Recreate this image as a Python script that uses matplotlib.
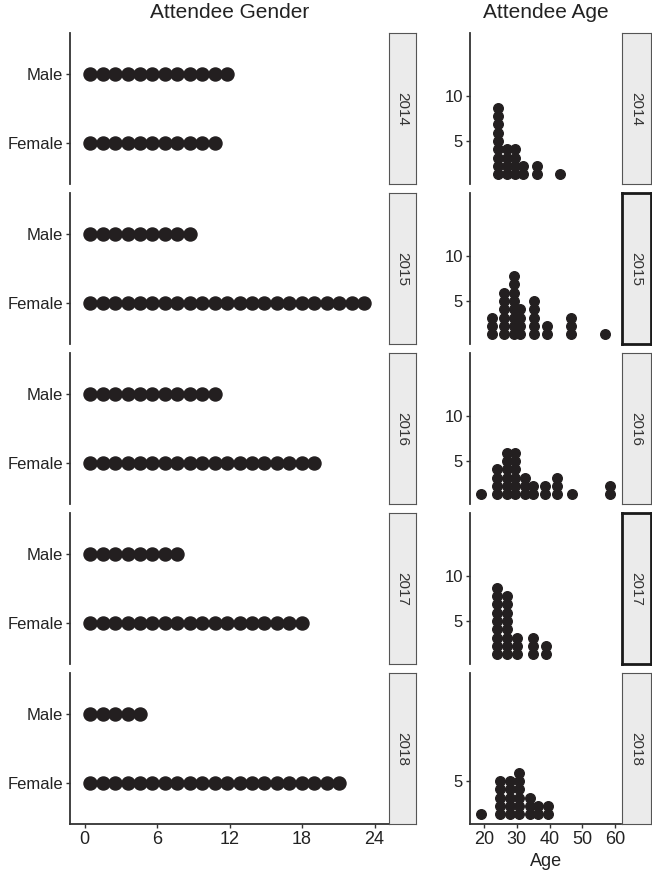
import matplotlib.pyplot as plt
import numpy as np

plt.rcParams['font.family'] = ['Liberation Sans', 'DejaVu Sans']

# Data
years = [2014, 2015, 2016, 2017, 2018]
genders = ['Female', 'Male']
male_counts = [12, 9, 11, 8, 5]
female_counts = [11, 23, 19, 18, 21]

# age bin centres and dot counts per year
ages_2014 = [24.2, 26.9, 29.5, 31.9, 36.0, 43.1]
counts_2014 = [9, 4, 4, 2, 2, 1]
ages_2015 = [22.3, 26.1, 29.1, 30.9, 35.2, 39.2, 46.4, 57.0]
counts_2015 = [3, 6, 8, 4, 5, 2, 3, 1]
ages_2016 = [19.0, 24.0, 26.9, 29.5, 32.6, 35.0, 38.5, 42.1, 46.9, 58.5]
counts_2016 = [1, 4, 6, 6, 3, 2, 2, 3, 1, 2]
ages_2017 = [24.0, 26.9, 29.9, 35.0, 38.8]
counts_2017 = [9, 8, 3, 3, 2]
ages_2018 = [19.0, 24.9, 27.9, 30.6, 34.0, 36.5, 39.5]
counts_2018 = [1, 5, 5, 6, 3, 2, 2]

age_bins = [ages_2014, ages_2015, ages_2016, ages_2017, ages_2018]
age_counts = [counts_2014, counts_2015, counts_2016, counts_2017, counts_2018]
age_yticks = [[5, 10], [5, 10], [5, 10], [5, 10], [5]]

W, H = 652, 874
fig = plt.figure(figsize=(W / 100, H / 100), dpi=100)

ink = '#231f20'
axis_col = '#333333'
text_col = '#222222'


def add_px_axes(left, top, right, bottom):
    return fig.add_axes([left / W, 1 - bottom / H, (right - left) / W, (bottom - top) / H])


def style(ax, last):
    for side in ['top', 'right']:
        ax.spines[side].set_visible(False)
    ax.spines['left'].set_color(axis_col)
    ax.spines['left'].set_linewidth(1.3)
    ax.spines['bottom'].set_color(axis_col)
    ax.spines['bottom'].set_linewidth(1.3)
    ax.spines['bottom'].set_visible(last)
    ax.tick_params(axis='y', length=3, width=1, color=axis_col, labelsize=12,
                   labelcolor=text_col, pad=2)
    ax.tick_params(axis='x', length=3, width=1, color=axis_col, labelsize=13,
                   labelcolor=text_col, pad=2)
    if not last:
        ax.set_xticks([])


def strip(left, top, right, bottom, year, heavy=False):
    sax = add_px_axes(left, top, right, bottom)
    sax.set_facecolor('#ebebeb')
    for sp in sax.spines.values():
        sp.set_color('#1a1a1a' if heavy else '#555555')
        sp.set_linewidth(2.0 if heavy else 0.8)
    sax.set_xticks([])
    sax.set_yticks([])
    sax.text(0.5, 0.5, str(year), rotation=-90, ha='center', va='center',
             fontsize=11, color='#333333', transform=sax.transAxes)


for i, year in enumerate(years):
    top = 33 + i * 160
    bottom = top + 151
    last = i == len(years) - 1

    # gender panel
    ax = add_px_axes(70, top, 389, bottom)
    for row, counts in enumerate([female_counts, male_counts]):
        n = counts[i]
        xs = 0.47 + 1.03 * np.arange(n)
        ax.plot(xs, np.full(n, row + 1), 'o', ms=9.4, color=ink, mec=ink)
    ax.set_xlim(-1.2, 25.2)
    ax.set_ylim(0.4, 2.6)
    ax.set_yticks([1, 2], genders)
    style(ax, last)
    if last:
        ax.set_xticks([0, 6, 12, 18, 24])
    strip(389, top, 416, bottom, year)

    # age panel
    ax2 = add_px_axes(470, top, 621.5, bottom)
    for a, c in zip(age_bins[i], age_counts[i]):
        ys = 1.3 + 0.92 * np.arange(c)
        ax2.plot(np.full(c, a), ys, 'o', ms=6.9, color=ink, mec=ink)
    ax2.set_xlim(15.7, 61.9)
    ax2.set_ylim(0.25, 16.9)
    ax2.set_yticks(age_yticks[i])
    style(ax2, last)
    if last:
        ax2.set_xticks([20, 30, 40, 50, 60])
        ax2.set_xlabel('Age', fontsize=13, color=text_col, labelpad=4)
    strip(621.5, top, 651, bottom, year, heavy=year in (2015, 2017))

fig.text(229.5 / W, 1 - 13 / H, 'Attendee Gender', ha='center', va='center',
         fontsize=15, color=text_col)
fig.text(546 / W, 1 - 13 / H, 'Attendee Age', ha='center', va='center',
         fontsize=15, color=text_col)

fig.savefig('out.png', dpi=100)
